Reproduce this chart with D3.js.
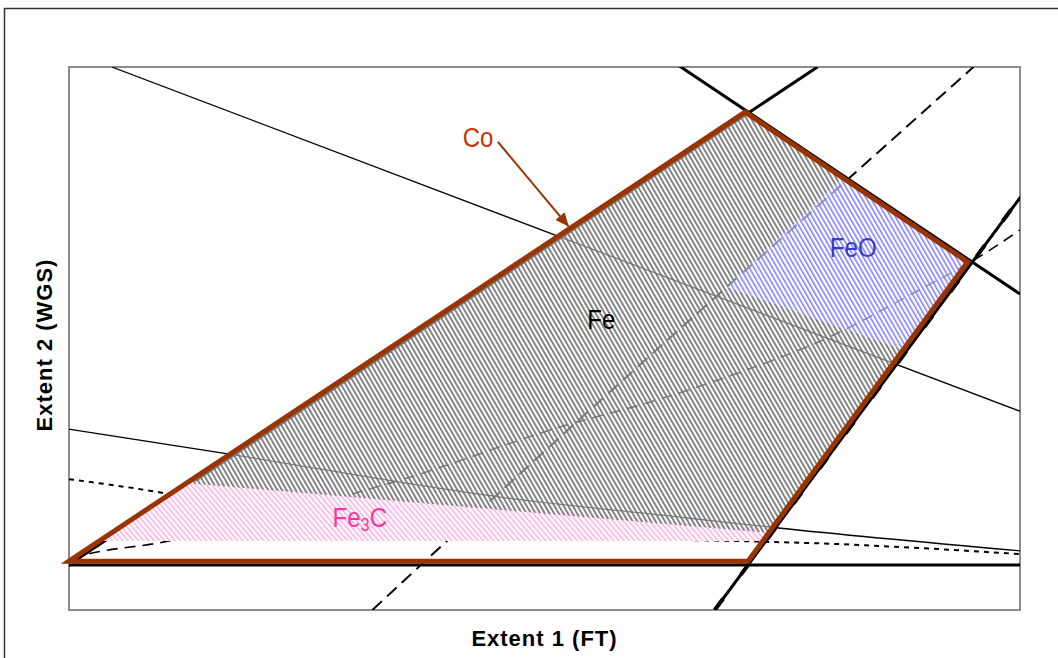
<!DOCTYPE html>
<html>
<head>
<meta charset="utf-8">
<script src="https://cdn.jsdelivr.net/npm/d3@7"></script>
<style>
  body { margin: 0; background: #fff; }
  svg { display: block; }
</style>
</head>
<body>
<div id="chart"></div>
<script>
// data, in chart units (both extents 0..100)
var coPolygon = [[0, 9], [71.1, 91.7], [94.5, 64.1], [71.4, 9]];
var feRegion = [[12.2, 23.4], [71.1, 91.7], [81.4, 79.6], [69.2, 59.5], [87.9, 47.9], [73.6, 14.2]];
var feoRegion = [[81.4, 79.6], [94.5, 64.1], [87.9, 47.9], [69.2, 59.5]];
var fe3cRegion = [[2.9, 12.7], [12.5, 23.8], [73.9, 14.9], [73.0, 12.7]];

var thinLine1 = [[4.5, 100], [100, 36.6]];
var thinLine2 = [[0, 33.3], [16.2, 28.9], [45.3, 20.8], [65.3, 16.9], [74.6, 15.1], [100, 10.9]];
var thickLine3 = [[64.0, 100.4], [100, 58.2]];
var thickLine4 = [[78.7, 100], [0.3, 8.7]];
var thickLine5 = [[0, 8.3], [100, 8.3]];
var thickLine6 = [[67.9, 0], [100.2, 76.4]];
var dashLine7 = [[31.9, 0], [45.3, 21.7], [60.0, 45.1], [82.4, 80.1], [95.1, 100]];
var dashLine8 = [[0.3, 9.4], [1.2, 9.9], [9.9, 12.5], [24.3, 18.8], [34.8, 23.9], [52.4, 34.1], [61.1, 38.3],
                 [70.6, 43.8], [80.0, 50.3], [88.4, 58.0], [96.5, 65.9], [100, 70.0]];
var dotLine9 = [[0, 24.1], [10.1, 21.5], [24.3, 16.2], [45.3, 13.4], [70.2, 12.7], [80.0, 12.2], [100, 10.3]];

var coArrow = [[45.1, 86.2], [52.5, 70.7]];
var labels = [
  {text: "Co", x: 41.4, y: 85.3, color: "#cc3300"},
  {text: "Fe", x: 54.5, y: 51.8, color: "#000000"},
  {text: "FeO", x: 80.0, y: 65.0, color: "#3a3acc"}
];
var fe3cLabel = {x: 27.7, y: 15.3, color: "#ff3399"};

var xTitle = "Extent 1 (FT)", yTitle = "Extent 2 (WGS)";

// layout
var margin = {top: 67, bottom: 48, left: 69, right: 38},
	width = 1058 - margin.left - margin.right,
	height = 658 - margin.top - margin.bottom;

var svg_root = d3.select("#chart").append("svg")
		.attr("width", 1058)
		.attr("height", 658);

svg_root.append("rect")
		.attr("x", 4.5).attr("y", 8.5)
		.attr("width", 1100).attr("height", 700)
		.attr("fill", "#fff")
		.attr("stroke", "#333")
		.attr("stroke-width", 1.5);

var svg = svg_root.append("g")
		.attr("transform", "translate(" + margin.left + ", " + margin.top + ")");

var xScale = d3.scaleLinear().range([0, width]).domain([0, 100]);
var yScale = d3.scaleLinear().range([height, 0]).domain([0, 100]);

var defs = svg_root.append("defs");

defs.append("clipPath").attr("id", "plotclip")
	.append("rect")
		.attr("width", width).attr("height", height);

function hatch(id, color, sw, angle) {
	var p = defs.append("pattern")
		.attr("id", id)
		.attr("patternUnits", "userSpaceOnUse")
		.attr("width", 4).attr("height", 10)
		.attr("patternTransform", "rotate(" + angle + ")");
	p.append("rect")
		.attr("x", 0).attr("y", 0)
		.attr("width", sw).attr("height", 10)
		.attr("fill", color);
}
hatch("hatchFe", "#707070", 1.7, -30);
hatch("hatchFeO", "#7a7aff", 1.5, -30);
hatch("hatchFe3C", "#ffa6e2", 1.4, -40);

defs.append("marker")
		.attr("id", "arrowhead")
		.attr("markerUnits", "userSpaceOnUse")
		.attr("viewBox", "0 0 14 12")
		.attr("markerWidth", 14).attr("markerHeight", 12)
		.attr("refX", 13).attr("refY", 6)
		.attr("orient", "auto")
	.append("path")
		.attr("d", "M0,0 L14,6 L0,12 Z")
		.attr("fill", "#993300");

// plot area frame
svg.append("rect")
		.attr("width", width).attr("height", height)
		.attr("fill", "none")
		.attr("stroke", "#8c8c8c")
		.attr("stroke-width", 2);

var line = d3.line()
		.x(function(d) { return xScale(d[0]); })
		.y(function(d) { return yScale(d[1]); });
var curve = d3.line()
		.x(function(d) { return xScale(d[0]); })
		.y(function(d) { return yScale(d[1]); })
		.curve(d3.curveMonotoneX);

var lines = svg.append("g").attr("clip-path", "url(#plotclip)");

function drawLine(data, gen, sw, dash) {
	lines.append("path")
		.attr("d", gen(data))
		.attr("fill", "none")
		.attr("stroke", "#000")
		.attr("stroke-width", sw)
		.attr("stroke-dasharray", dash || null);
}
drawLine(thinLine1, line, 1.3);
drawLine(thinLine2, curve, 1.3);
drawLine(thickLine3, line, 3);
drawLine(thickLine4, line, 3);
drawLine(thickLine5, line, 3);
drawLine(thickLine6, line, 3);
drawLine(thickLine6, line, 4, "14,30");
drawLine(dashLine7, curve, 2, "13,7");
drawLine(dashLine8, curve, 1.6, "11,7");
drawLine(dotLine9, curve, 2, "5,5");

// regions
function region(data, washOpacity, pattern) {
	svg.append("path")
		.attr("d", line(data) + "Z")
		.attr("fill", "#fff")
		.attr("fill-opacity", washOpacity);
	svg.append("path")
		.attr("d", line(data) + "Z")
		.attr("fill", "url(#" + pattern + ")");
}
region(fe3cRegion, 1, "hatchFe3C");
region(feRegion, 0.5, "hatchFe");
region(feoRegion, 0.6, "hatchFeO");

svg.append("path")
		.attr("d", line(coPolygon) + "Z")
		.attr("fill", "none")
		.attr("stroke", "#993300")
		.attr("stroke-width", 5)
		.attr("stroke-linejoin", "miter");

svg.append("path")
		.attr("d", line(coArrow))
		.attr("stroke", "#993300")
		.attr("stroke-width", 2)
		.attr("marker-end", "url(#arrowhead)");

// labels (slightly condensed to match the original face)
var labelFont = "'Liberation Sans', Arial, sans-serif";
svg.selectAll(".region-label")
	.data(labels)
	.enter().append("text")
		.attr("class", "region-label")
		.attr("transform", function(d) {
			return "translate(" + xScale(d.x) + "," + yScale(d.y) + ") scale(0.86,1)";
		})
		.attr("fill", function(d) { return d.color; })
		.style("font-family", labelFont)
		.style("font-size", "28px")
		.text(function(d) { return d.text; });

var t = svg.append("text")
		.attr("transform", "translate(" + xScale(fe3cLabel.x) + "," + yScale(fe3cLabel.y) + ") scale(0.86,1)")
		.attr("fill", fe3cLabel.color)
		.style("font-family", labelFont)
		.style("font-size", "28px");
t.append("tspan").text("Fe");
t.append("tspan").attr("dy", 4).style("font-size", "19px").text("3");
t.append("tspan").attr("dy", -4).text("C");

// axis titles
svg_root.append("text")
		.attr("x", margin.left + width / 2)
		.attr("y", 646)
		.attr("text-anchor", "middle")
		.style("font-family", labelFont)
		.style("font-weight", "bold")
		.style("font-size", "22px")
		.style("letter-spacing", "1px")
		.text(xTitle);

svg_root.append("text")
		.attr("transform", "translate(52, 345) rotate(-90)")
		.attr("text-anchor", "middle")
		.style("font-family", labelFont)
		.style("font-weight", "bold")
		.style("font-size", "22px")
		.style("letter-spacing", "1px")
		.text(yTitle);
</script>
</body>
</html>
